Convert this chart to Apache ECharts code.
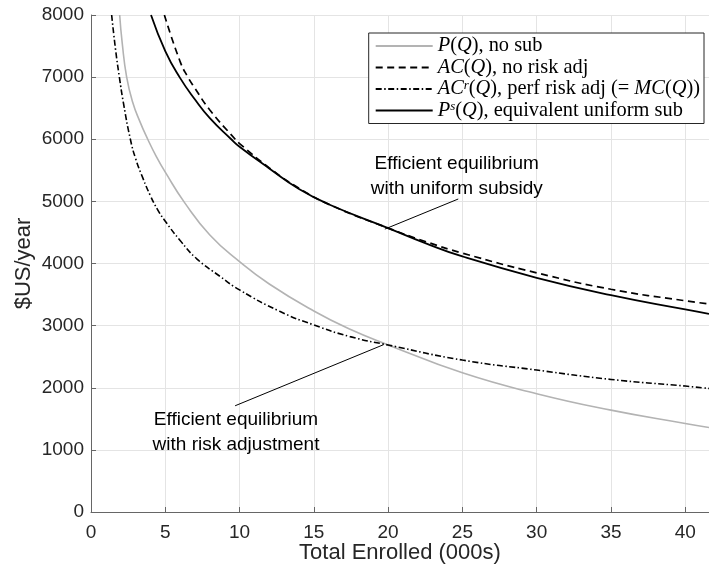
<!DOCTYPE html>
<html><head><meta charset="utf-8">
<script src="https://cdn.jsdelivr.net/npm/echarts@6/dist/echarts.min.js"></script>
<style>html,body{margin:0;padding:0;background:#fff}#c{width:709px;height:573px}</style>
</head><body><div id="c"></div>
<script>
// P(Q), no subsidy (gray)
const qP   = [1.93, 2.1, 2.4, 2.8, 3.3, 3.82, 4.4, 5, 6.3, 8, 10, 12, 15, 17.44, 20, 25, 30, 35, 40, 41.6];
const valP = [8000, 7550, 7000, 6600, 6280, 6000, 5720, 5470, 4980, 4460, 4030, 3670, 3235, 2940, 2690, 2240, 1905, 1640, 1425, 1360];
// AC(Q), no risk adj (dashed)
const qAC   = [4.94, 6, 6.52, 7, 8, 9.71, 10, 12, 14, 16.07, 20, 22.5, 25, 30, 35, 40, 41.6];
const valAC = [8000, 7250, 7000, 6820, 6470, 6000, 5930, 5540, 5212, 4946, 4570, 4355, 4167, 3850, 3585, 3400, 3350];
// AC^r(Q), perfect risk adj (= MC(Q)) (dash-dot)
const qACr   = [1.39, 1.65, 1.91, 2.2, 2.65, 3, 3.5, 4, 4.5, 5, 6, 7.1, 8.7, 10, 12.7, 15, 17.44, 20, 25, 30, 35, 40, 41.6];
const valACr = [8000, 7450, 7000, 6560, 6000, 5690, 5370, 5090, 4860, 4680, 4370, 4080, 3790, 3575, 3230, 3011, 2823, 2688, 2446, 2285, 2134, 2027, 1989];
// P^s(Q), equivalent uniform subsidy (solid black)
const qPs   = [4.04, 5, 5.96, 7, 8, 9.44, 10, 12, 14, 16.07, 20, 22.5, 25, 30, 35, 40, 41.6];
const valPs = [8000, 7420, 7000, 6640, 6340, 6000, 5880, 5530, 5200, 4946, 4570, 4328, 4113, 3770, 3490, 3260, 3190];
// annotations (data coordinates)
const pointerUS = [[19.78, 4554], [24.72, 5038]];
const pointerRA = [[19.7, 2694], [9.7, 1710]];
const textUSAt = [24.62, 5410];
const textRAAt = [9.76, 1290];
const textUS = 'Efficient equilibrium\nwith uniform subsidy';
const textRA = 'Efficient equilibrium\nwith risk adjustment';
// axes
const xTicks = {min: 0, max: 41.6, interval: 5};
const yTicks = {min: 0, max: 8000, interval: 1000};
const names = ['P(Q), no sub', 'AC(Q), no risk adj', 'AC^r(Q), perf risk adj (= MC(Q))', 'P^s(Q), equivalent uniform sub'];

const pairs = (q, v) => q.map((x, i) => [x, v[i]]);
const serif = 'Liberation Serif';
const sans = 'Liberation Sans, Arial, sans-serif';
const legendRich = {
  i: {fontFamily: serif, fontStyle: 'italic', fontSize: 20.4, color: '#000', lineHeight: 20},
  r: {fontFamily: serif, fontSize: 20.4, color: '#000', lineHeight: 20},
  s: {fontFamily: serif, fontStyle: 'italic', fontSize: 13, color: '#000', lineHeight: 13, verticalAlign: 'top'}
};
const legendText = {};
legendText[names[0]] = '{i|P}{r|(}{i|Q}{r|), no sub}';
legendText[names[1]] = '{i|AC}{r|(}{i|Q}{r|), no risk adj}';
legendText[names[2]] = '{i|AC}{s|r}{r|(}{i|Q}{r|), perf risk adj (= }{i|MC}{r|(}{i|Q}{r|))}';
legendText[names[3]] = '{i|P}{s|s}{r|(}{i|Q}{r|), equivalent uniform sub}';

const chart = echarts.init(document.getElementById('c'), null, {renderer: 'canvas'});
const baseLine = (name, data, color, width, type, z) => ({
  name, type: 'line', data, symbol: 'none', showSymbol: false, smooth: 0.5,
  lineStyle: {color, width, type}, itemStyle: {color}, z, silent: true, animation: false
});
const axisCommon = {
  axisLine: {show: true, onZero: false, lineStyle: {color: '#666', width: 1}},
  axisTick: {show: true, inside: true, length: 5, lineStyle: {color: '#666'}},
  splitLine: {show: true, lineStyle: {color: '#e4e4e4', width: 1}},
};
chart.setOption({
  animation: false,
  backgroundColor: '#fff',
  grid: {left: 91, right: 0, top: 15, bottom: 61, containLabel: false},
  xAxis: Object.assign({type: 'value'}, xTicks, axisCommon, {
    axisLabel: {showMaxLabel: false, color: '#262626', fontSize: 19, fontFamily: sans, margin: 11},
    name: 'Total Enrolled (000s)', nameLocation: 'middle', nameGap: 30, nameMoveOverlap: false,
    nameTextStyle: {fontSize: 22, fontFamily: sans, color: '#262626'}
  }),
  yAxis: Object.assign({type: 'value'}, yTicks, axisCommon, {
    axisLabel: {color: '#262626', fontSize: 19, fontFamily: sans, margin: 7, formatter: v => String(v)},
    name: '$US/year', nameLocation: 'middle', nameGap: 56, nameMoveOverlap: false,
    nameTextStyle: {fontSize: 22, fontFamily: sans, color: '#262626'}
  }),
  legend: {
    data: names, orient: 'vertical', right: 5, top: 33, align: 'left',
    itemWidth: 57, itemHeight: 12, itemGap: 1.5, padding: [3, 4, 3, 6],
    borderColor: '#262626', borderWidth: 1, backgroundColor: '#fff',
    itemStyle: {opacity: 0, borderWidth: 0},
    formatter: n => legendText[n], textStyle: {rich: legendRich}, selectedMode: false
  },
  series: [
    baseLine(names[0], pairs(qP, valP), '#b3b3b3', 1.6, 'solid', 2),
    baseLine(names[1], pairs(qAC, valAC), '#000', 1.7, [7, 4.5], 3),
    baseLine(names[2], pairs(qACr, valACr), '#000', 1.6, [6, 2.5, 1.5, 2.5], 3),
    baseLine(names[3], pairs(qPs, valPs), '#000', 1.8, 'solid', 4),
    {type: 'line', data: pointerUS, symbol: 'none', lineStyle: {color: '#000', width: 1}, silent: true, z: 5},
    {type: 'line', data: pointerRA, symbol: 'none', lineStyle: {color: '#000', width: 1}, silent: true, z: 5}
  ]
});
const pUS = chart.convertToPixel({gridIndex: 0}, textUSAt);
const pRA = chart.convertToPixel({gridIndex: 0}, textRAAt);
const txt = (p, t) => ({type: 'text', x: p[0], y: p[1], z: 10,
  style: {text: t, fill: '#000', font: '19px ' + sans, textAlign: 'center', textVerticalAlign: 'middle', lineHeight: 25}});
chart.setOption({graphic: [txt(pUS, textUS), txt(pRA, textRA)]});
</script></body></html>
